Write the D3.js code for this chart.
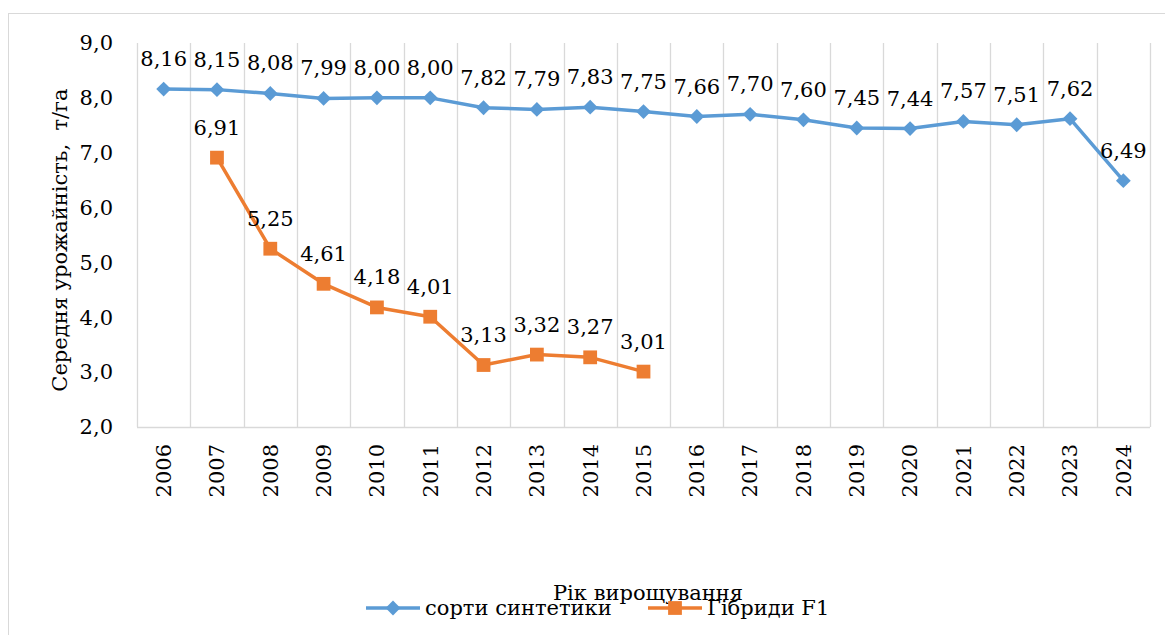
<!DOCTYPE html>
<html>
<head>
<meta charset="utf-8">
<script src="https://cdn.jsdelivr.net/npm/d3@7"></script>
<style>
  body { margin: 0; background: #fff; }
  svg { display: block; }
</style>
</head>
<body>
<svg id="chart" width="1165" height="635"></svg>
<script>
// data
var years = ["2006","2007","2008","2009","2010","2011","2012","2013","2014","2015",
  "2016","2017","2018","2019","2020","2021","2022","2023","2024"];
var syntheticValues = [8.16,8.15,8.08,7.99,8.00,8.00,7.82,7.79,7.83,7.75,
  7.66,7.70,7.60,7.45,7.44,7.57,7.51,7.62,6.49];
var hybridYears = ["2007","2008","2009","2010","2011","2012","2013","2014","2015"];
var hybridValues = [6.91,5.25,4.61,4.18,4.01,3.13,3.32,3.27,3.01];
var yTicks = [2,3,4,5,6,7,8,9];

var seriesNames = ["сорти синтетики", "Гібриди F1"];
var blue = "#5B9BD5", orange = "#ED7D31";
var serif = "DejaVu Serif";

var svg = d3.select("#chart");
var plot = {left: 137, right: 1150, top: 43, bottom: 427};

// outer frame
svg.append("rect")
  .attr("x", 8.5).attr("y", 13.5)
  .attr("width", 1170).attr("height", 640)
  .attr("fill", "none").attr("stroke", "#d9d9d9").attr("stroke-width", 1);

var x = d3.scaleBand().domain(years).range([plot.left, plot.right]);
var y = d3.scaleLinear().domain([2, 9]).range([plot.bottom, plot.top]);
var fmt = function(v){ return d3.format(".2f")(v).replace(".", ","); };

// vertical gridlines at category boundaries
var bounds = years.map(function(d){ return x(d); }).concat([plot.right]);
svg.append("g").selectAll("line").data(bounds).enter().append("line")
  .attr("x1", d => Math.round(d) + 0.5).attr("x2", d => Math.round(d) + 0.5)
  .attr("y1", plot.top).attr("y2", plot.bottom)
  .attr("stroke", "#d9d9d9").attr("stroke-width", 1.3);

// x axis line
svg.append("line")
  .attr("x1", plot.left).attr("x2", plot.right)
  .attr("y1", plot.bottom + 0.5).attr("y2", plot.bottom + 0.5)
  .attr("stroke", "#d9d9d9").attr("stroke-width", 1.3);

function txt(g) {
  return g.style("font-family", serif).attr("font-size", 21).attr("fill", "#000");
}

// y tick labels
svg.append("g").selectAll("text").data(yTicks).enter().append("text")
  .call(txt)
  .attr("x", 113).attr("y", d => y(d))
  .attr("dy", "0.35em")
  .attr("text-anchor", "end")
  .text(d => d3.format(".1f")(d).replace(".", ","));

// x tick labels (rotated)
svg.append("g").selectAll("text").data(years).enter().append("text")
  .call(txt)
  .attr("transform", d => "translate(" + (x(d) + x.bandwidth()/2) + "," + (plot.bottom + 17) + ") rotate(-90)")
  .attr("dy", "0.35em")
  .attr("text-anchor", "end")
  .text(d => d);

// y axis title
svg.append("text")
  .call(txt)
  .attr("transform", "translate(67," + ((plot.top + plot.bottom)/2 + 5) + ") rotate(-90)")
  .attr("text-anchor", "middle")
  .style("white-space", "pre")
  .text("Середня урожайність,  т/га");

// x axis title
svg.append("text")
  .call(txt)
  .attr("x", 648).attr("y", 600)
  .attr("text-anchor", "middle")
  .text("Рік вирощування");

var cx = d => x(d) + x.bandwidth()/2;
var line = d3.line().x(d => cx(d[0])).y(d => y(d[1]));

var synth = years.map((d, i) => [d, syntheticValues[i]]);
var hyb = hybridYears.map((d, i) => [d, hybridValues[i]]);

// lines
svg.append("path").datum(synth).attr("d", line)
  .attr("fill", "none").attr("stroke", blue).attr("stroke-width", 3.5).attr("stroke-linejoin", "round");
svg.append("path").datum(hyb).attr("d", line)
  .attr("fill", "none").attr("stroke", orange).attr("stroke-width", 3.5).attr("stroke-linejoin", "round");

// markers
var diamond = d3.symbol().type(d3.symbolSquare).size(110);
var square = d3.symbol().type(d3.symbolSquare).size(190);
svg.append("g").selectAll("path").data(synth).enter().append("path")
  .attr("d", diamond)
  .attr("transform", d => "translate(" + cx(d[0]) + "," + y(d[1]) + ") rotate(45)")
  .attr("fill", blue);
svg.append("g").selectAll("path").data(hyb).enter().append("path")
  .attr("d", square)
  .attr("transform", d => "translate(" + cx(d[0]) + "," + y(d[1]) + ")")
  .attr("fill", orange);

// data labels
function labels(data) {
  svg.append("g").selectAll("text").data(data).enter().append("text")
    .call(txt)
    .attr("x", d => cx(d[0]))
    .attr("y", d => y(d[1]) - 23)
    .attr("text-anchor", "middle")
    .text(d => fmt(d[1]));
}
labels(synth);
labels(hyb);

// legend
var legend = svg.append("g");
var items = [
  {name: seriesNames[0], color: blue, x0: 366, shape: "diamond"},
  {name: seriesNames[1], color: orange, x0: 648, shape: "square"}
];
var ly = 608;
items.forEach(function(it){
  legend.append("line")
    .attr("x1", it.x0).attr("x2", it.x0 + 54)
    .attr("y1", ly).attr("y2", ly)
    .attr("stroke", it.color).attr("stroke-width", 3.5);
  if (it.shape === "diamond") {
    legend.append("path")
      .attr("d", diamond)
      .attr("transform", "translate(" + (it.x0 + 27) + "," + ly + ") rotate(45)")
      .attr("fill", it.color);
  } else {
    legend.append("path")
      .attr("d", square)
      .attr("transform", "translate(" + (it.x0 + 27) + "," + ly + ")")
      .attr("fill", it.color);
  }
  legend.append("text")
    .call(txt)
    .attr("x", it.x0 + 59).attr("y", ly)
    .attr("dy", "0.35em")
    .text(it.name);
});
</script>
</body>
</html>
